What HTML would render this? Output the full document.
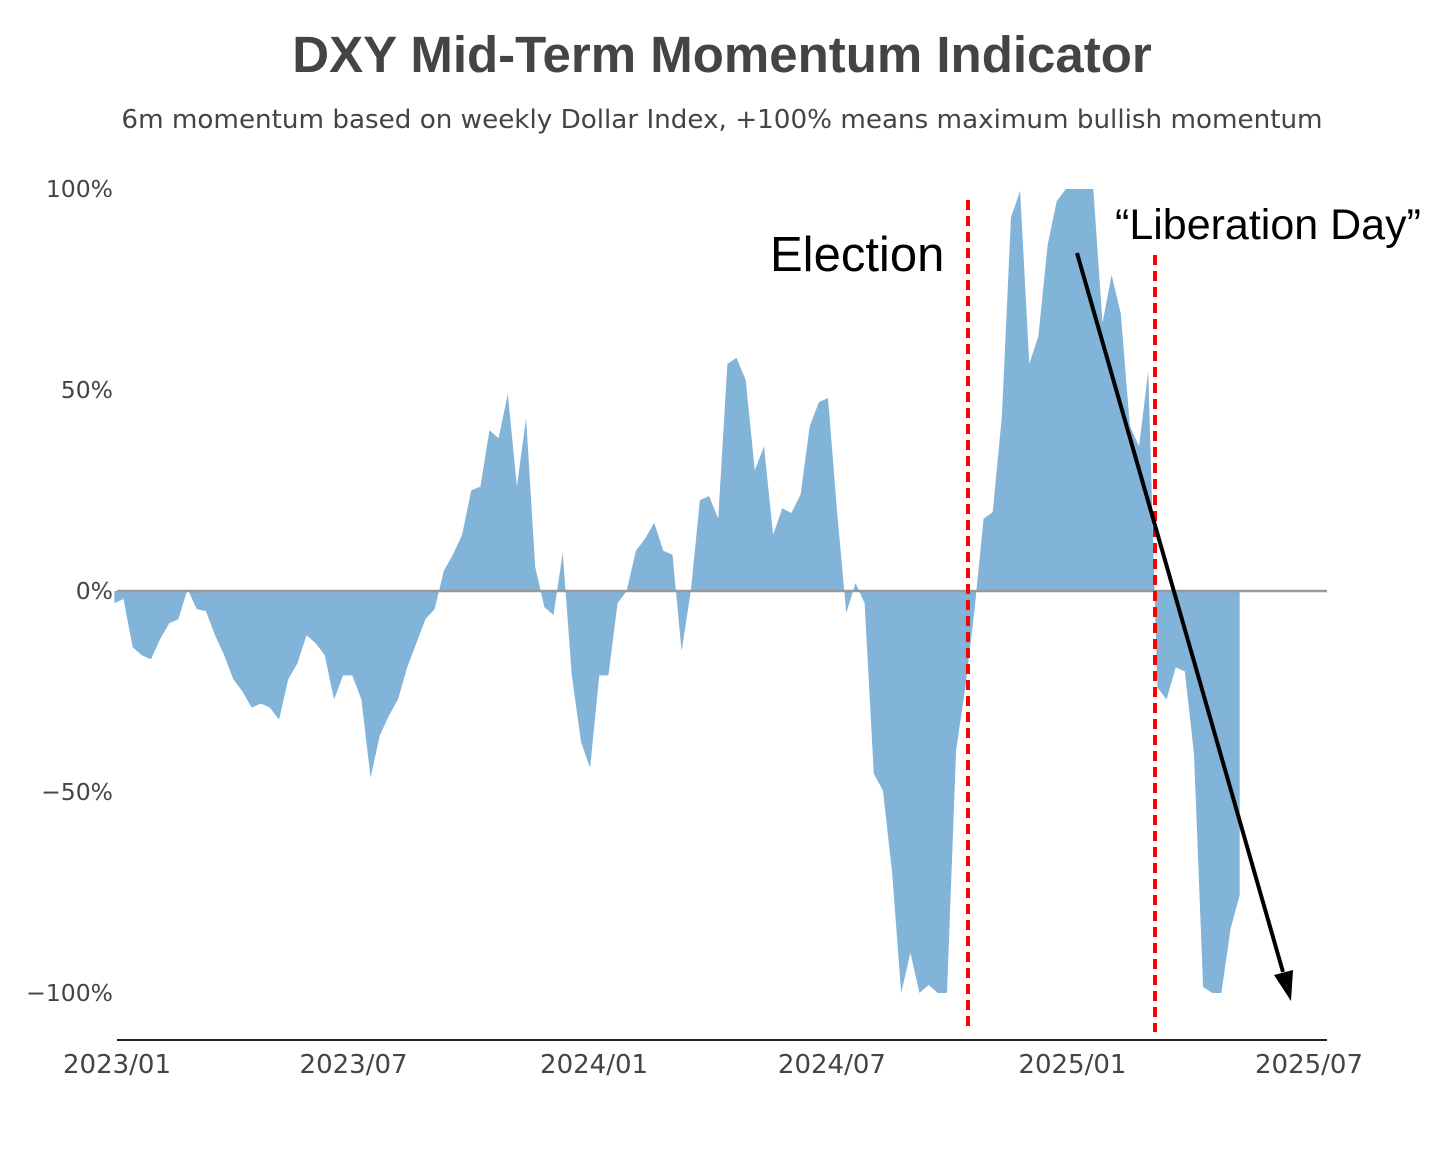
<!DOCTYPE html>
<html><head><meta charset="utf-8"><style>
body{margin:0;background:#fff;}
svg{display:block;font-family:"Liberation Sans",Arial,sans-serif;}
</style></head><body>
<svg id="chart" width="1456" height="1155" viewBox="0 0 1456 1155">
<text x="722" y="72" text-anchor="middle" font-size="51" font-weight="bold" fill="#444">DXY Mid-Term Momentum Indicator</text>
<text x="722" y="128" text-anchor="middle" font-size="26.2" fill="#444" font-family="DejaVu Sans, sans-serif">6m momentum based on weekly Dollar Index, +100% means maximum bullish momentum</text>
<g id="yaxis"></g>
<g id="xaxis"></g>
<path id="area" fill="#82b3d8"></path>
<line id="zero" stroke="#999" stroke-width="2.5"></line>
<line x1="117" y1="1040" x2="1327" y2="1040" stroke="#222" stroke-width="2"></line>
<line x1="968" y1="200" x2="968" y2="1032" stroke="#f00" stroke-width="4" stroke-dasharray="10,6"></line>
<line x1="1155" y1="255" x2="1155" y2="1032" stroke="#f00" stroke-width="4" stroke-dasharray="10,6"></line>
<text x="770" y="271" font-size="49" fill="#000">Election</text>
<text x="1115" y="239" font-size="43" fill="#000">“Liberation Day”</text>
<line x1="1077" y1="253" x2="1283" y2="972" stroke="#000" stroke-width="4"></line>
<polygon points="1291,1001 1274,975 1293,970" fill="#000"></polygon>
</svg>
<script>
const startDate = "2022-12-30";
const values = [-3,-2,-14,-16,-17,-12,-8,-7,0.5,-4.5,-5,-11,-16,-22,-25,-29,-28,-29,-32,-22,-18,-11,-13,-16,-27,-21,-21,-27,-46.5,-36,-31,-27,-19,-13,-7,-4.5,5,9,14,25,26,40,38,49,26,43,6,-4,-6,9.5,
-21,-37.5,-44,-21,-21,-3,0,10,13,17,10,9,-15,0,22.6,23.6,18,56.5,58,52.5,30,36,14,20.6,19.4,24,41,47,48,19.4,-5.5,2,-3,-45.5,-49.6,-70,-100,-90,-100,-98,-100,-100,-39.6,-24,
-5,18,19.6,43.5,93,99.5,56.5,63.4,86,97,100,100,100,100,66.7,78.6,69,41,36,54.7,-24,-27,-19,-20,-40.5,-98.5,-100,-100,-84,-75.6];
const yTicks = [100,50,0,-50,-100];
const yTickLabels = ["100%","50%","0%","\u221250%","\u2212100%"];
const xTicks = ["2023-01-01","2023-07-01","2024-01-01","2024-07-01","2025-01-01","2025-07-01"];
const xTickLabels = ["2023/01","2023/07","2024/01","2024/07","2025/01","2025/07"];

const NS="http://www.w3.org/2000/svg";
const t0=Date.parse("2023-01-01"), t1=Date.parse("2025-07-01");
function xs(d){return 117+(Date.parse(d)-t0)/(t1-t0)*(1309-117);}
function xw(i){return 117+(Date.parse(startDate)+i*7*864e5-t0)/(t1-t0)*(1309-117);}
function ys(v){return 591-v*4.02;}

const ya=document.getElementById('yaxis');
yTicks.forEach((v,i)=>{
  const t=document.createElementNS(NS,'text');
  t.setAttribute('x',113);t.setAttribute('y',ys(v)+8);
  t.setAttribute('text-anchor','end');t.setAttribute('font-size','23.5');t.setAttribute('fill','#444');
  t.setAttribute('font-family','DejaVu Sans, sans-serif');
  t.textContent=yTickLabels[i];
  
  
  ya.appendChild(t);
});
const xa=document.getElementById('xaxis');
xTicks.forEach((d,i)=>{
  const t=document.createElementNS(NS,'text');
  t.setAttribute('x',xs(d));t.setAttribute('y',1073);
  t.setAttribute('text-anchor','middle');t.setAttribute('font-size','26');t.setAttribute('fill','#444');
  t.setAttribute('font-family','DejaVu Sans, sans-serif');
  t.textContent=xTickLabels[i];
  
  
  xa.appendChild(t);
});
let d="M"+xw(0)+","+ys(0);
values.forEach((v,i)=>{d+=" L"+xw(i).toFixed(1)+","+ys(v).toFixed(1);});
d+=" L"+xw(values.length-1).toFixed(1)+","+ys(0)+" Z";
document.getElementById('area').setAttribute('d',d);
const z=document.getElementById('zero');
z.setAttribute('x1',117);z.setAttribute('x2',1327);z.setAttribute('y1',ys(0));z.setAttribute('y2',ys(0));
</script>
</body></html>
